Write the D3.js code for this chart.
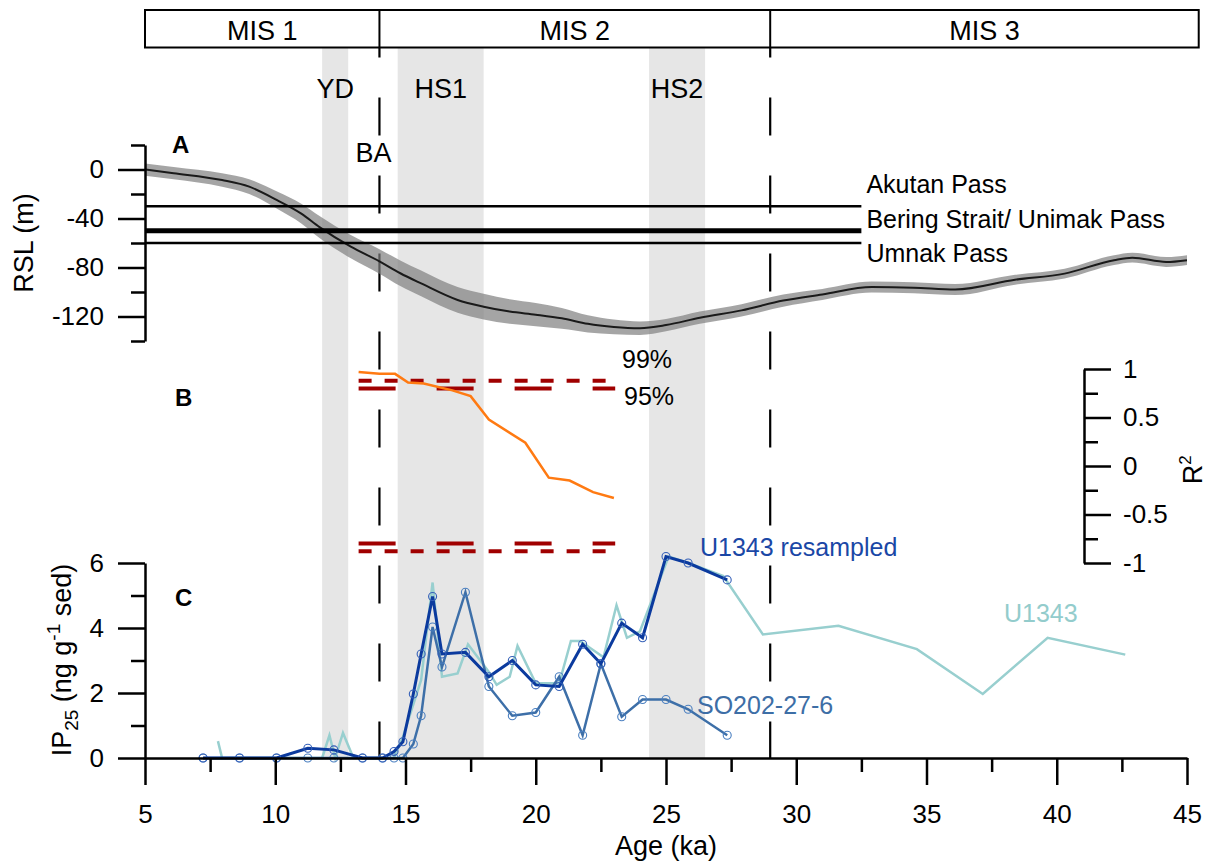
<!DOCTYPE html>
<html>
<head>
<meta charset="utf-8">
<script src="https://cdn.jsdelivr.net/npm/d3@7/dist/d3.min.js"></script>
<style>
  html, body { margin: 0; padding: 0; background: #fff; }
  svg { display: block; font-family: "Liberation Sans", Arial, Helvetica, sans-serif; }
  .axis path, .axis line { stroke: #000; stroke-width: 2.5; }
  .axis text { font-size: 26px; fill: #000; font-family: "Liberation Sans", Arial, sans-serif; }
</style>
</head>
<body>
<svg id="chart" width="1213" height="863"></svg>
<script>
// ---------------- DATA ----------------
// Marine isotope stages (boundaries in ka)
const misNames = ["MIS 1", "MIS 2", "MIS 3"];
const misBounds = [5, 14, 29, 45.45];

// Climate events (shaded), ka
const eventNames = ["YD", "HS1", "HS2"];
const eventStart = [11.8, 14.7, 24.35];
const eventEnd = [12.8, 18.0, 26.5];

// Dashed boundaries (ka)
const boundaryAges = [14, 29];

// Panel A: relative sea level (m)
const rslAge  = [5.0, 6.1, 7.96, 9.0, 10.07, 11.0, 11.7, 12.9, 14.0, 14.8, 15.6, 17.0, 18.0, 19.0, 20.0, 21.0, 22.0, 23.0, 24.0, 25.0, 26.3, 27.9, 29.5, 31.0, 32.9, 34.5, 36.1, 38.4, 40.3, 42.2, 42.9, 44.2, 45.0];
const rslMean = [0, -3, -8.6, -14, -25, -36, -47, -63, -75, -84.7, -93, -106.5, -112, -116, -118.5, -121.5, -126, -128.5, -129.5, -127, -121, -115, -107, -102, -96, -96.5, -98, -90, -85, -74, -72, -75.5, -74];
const rslErr  = [5, 5, 5.5, 6, 7, 8, 9, 9.5, 10, 10.5, 10.5, 10.5, 10.5, 10, 9.5, 8.5, 7, 6, 5.5, 5, 5, 5, 5, 4.5, 4.5, 4.5, 4.5, 4, 4, 4, 4, 4, 4];

// Sill depths (m)
const passNames = ["Akutan Pass", "Bering Strait/ Unimak Pass", "Umnak Pass"];
const passDepth = [-30, -50, -60];
const passExtent = [5, 32.5];

// Panel B: R²
const r2Age = [13.2, 14.0, 14.6, 15.1, 15.7, 16.8, 17.5, 18.2, 19.6, 20.5, 21.3, 22.2, 23.0];
const r2Val = [0.97, 0.95, 0.95, 0.86, 0.85, 0.78, 0.72, 0.48, 0.24, -0.12, -0.15, -0.27, -0.33];
const sigExtent = [13.2, 23.05];
const sig99 = 0.88;
const sig95 = 0.80;

// Panel C: IP25 (ng g-1 sed)
const u1343Age = [7.8, 7.96, 11.8, 12.08, 12.3, 12.6, 13.0, 14.55, 14.9, 15.6, 16.04, 16.4, 17.0, 17.4, 18.2, 18.5, 19.0, 19.3, 20.0, 20.9, 21.35, 21.7, 22.6, 23.1, 23.5, 24.0, 25.1, 25.85, 27.2, 28.72, 31.62, 34.63, 37.16, 39.65, 42.63];
const u1343Val = [0.52, 0, 0, 0.7, 0, 0.77, 0, 0, 0.65, 2.4, 5.4, 2.5, 2.6, 3.5, 2.65, 2.25, 2.5, 3.45, 2.3, 2.3, 3.6, 3.6, 3.1, 4.7, 3.7, 3.9, 6.2, 6.0, 5.6, 3.8, 4.07, 3.35, 1.97, 3.7, 3.18];

const soAge = [7.23, 8.63, 10.05, 11.25, 12.25, 13.35, 14.12, 14.56, 14.9, 15.3, 15.6, 16.04, 16.4, 17.3, 18.2, 19.1, 20.0, 20.9, 21.8, 22.5, 23.3, 24.1, 25.0, 25.85, 27.35];
const soVal = [0, 0, 0, 0, 0, 0, 0, 0, 0, 0.43, 1.3, 4.03, 2.8, 5.1, 2.2, 1.3, 1.4, 2.5, 0.7, 2.9, 1.27, 1.8, 1.8, 1.5, 0.7];
const resVal = [0, 0, 0, 0.3, 0.25, 0, 0, 0.2, 0.5, 1.97, 3.2, 4.97, 3.2, 3.25, 2.5, 3.0, 2.25, 2.2, 3.5, 2.9, 4.15, 3.7, 6.2, 6.0, 5.48];

// Tick values
const xMajor = [5, 10, 15, 20, 25, 30, 35, 40, 45];
const xMinor = [7.5, 12.5, 17.5, 22.5, 27.5, 32.5, 37.5, 42.5];
const aMajor = [0, -40, -80, -120];
const aMinor = [20, -20, -60, -100, -140];
const bMajor = [1, 0.5, 0, -0.5, -1];
const bMinor = [0.75, 0.25, -0.25, -0.75];
const cMajor = [0, 2, 4, 6];
const cMinor = [1, 3, 5];

// ---------------- LAYOUT ----------------
const svg = d3.select("#chart");
const FONT = "'Liberation Sans', Arial, sans-serif";

const x = d3.scaleLinear().domain([5, 45]).range([145, 1187]);
const yA = d3.scaleLinear().domain([-140, 20]).range([341, 145]);
const yB = d3.scaleLinear().domain([-1, 1]).range([563, 369]);
const yC = d3.scaleLinear().domain([0, 6]).range([758, 563]);

const misTop = 10, misBottom = 47.5;
const plotBottom = yC(0);

// Shaded events
svg.append("g").selectAll("rect").data(eventNames).join("rect")
  .attr("x", (d, i) => x(eventStart[i]))
  .attr("width", (d, i) => x(eventEnd[i]) - x(eventStart[i]))
  .attr("y", misBottom)
  .attr("height", plotBottom - misBottom)
  .attr("fill", "#e6e6e6");

// Event labels
svg.append("g").selectAll("text").data(eventNames).join("text")
  .attr("x", (d, i) => x((eventStart[i] + eventEnd[i]) / 2))
  .attr("y", 98)
  .attr("text-anchor", "middle")
  .attr("font-size", 27)
  .attr("font-family", FONT)
  .text(d => d);

svg.append("text").attr("x", x(14) - 6).attr("y", 162).attr("text-anchor", "middle")
  .attr("font-size", 27).attr("font-family", FONT).text("BA");

// Dashed vertical boundaries
svg.append("g").selectAll("line").data(boundaryAges).join("line")
  .attr("x1", d => x(d)).attr("x2", d => x(d))
  .attr("y1", misBottom).attr("y2", plotBottom)
  .attr("stroke", "#000").attr("stroke-width", 2.2)
  .attr("stroke-dasharray", "38,40").attr("stroke-dashoffset", 28);

// MIS bar
const misG = svg.append("g");
misG.append("rect").attr("x", x(misBounds[0])).attr("y", misTop)
  .attr("width", x(misBounds[3]) - x(misBounds[0])).attr("height", misBottom - misTop)
  .attr("fill", "none").attr("stroke", "#000").attr("stroke-width", 2);
misG.selectAll("line").data(misBounds.slice(1, 3)).join("line")
  .attr("x1", d => x(d)).attr("x2", d => x(d)).attr("y1", misTop).attr("y2", misBottom)
  .attr("stroke", "#000").attr("stroke-width", 2);
misG.selectAll("text").data(misNames).join("text")
  .attr("x", (d, i) => (x(misBounds[i]) + x(misBounds[i + 1])) / 2)
  .attr("y", 39.5).attr("text-anchor", "middle").attr("font-size", 27).attr("font-family", FONT)
  .text(d => d);

// ---------------- PANEL A ----------------
const rslPts = rslAge.map((a, i) => ({ a, m: rslMean[i], e: rslErr[i] }));
svg.append("path").datum(rslPts)
  .attr("d", d3.area().x(d => x(d.a)).y0(d => yA(d.m - d.e)).y1(d => yA(d.m + d.e)).curve(d3.curveMonotoneX))
  .attr("fill", "#7f7f7f").attr("fill-opacity", 0.7);
svg.append("path").datum(rslPts)
  .attr("d", d3.line().x(d => x(d.a)).y(d => yA(d.m)).curve(d3.curveMonotoneX))
  .attr("fill", "none").attr("stroke", "#1a1a1a").attr("stroke-width", 2);

const passWidths = [2.3, 5, 2.3];
svg.append("g").selectAll("line").data(passDepth).join("line")
  .attr("x1", x(passExtent[0])).attr("x2", x(passExtent[1]))
  .attr("y1", d => yA(d)).attr("y2", d => yA(d))
  .attr("stroke", "#000").attr("stroke-width", (d, i) => passWidths[i]);
const passLabelY = [193, 228, 262];
svg.append("g").selectAll("text").data(passNames).join("text")
  .attr("x", x(passExtent[1]) + 5).attr("y", (d, i) => passLabelY[i])
  .attr("font-size", 25).attr("font-family", FONT).text(d => d);

const axA = svg.append("g").attr("class", "axis").attr("transform", `translate(${x(5)},0)`);
axA.call(d3.axisLeft(yA).tickValues(aMajor).tickSize(27).tickSizeOuter(0).tickPadding(14).tickFormat(d => String(d)));
const axAm = svg.append("g").attr("class", "axis").attr("transform", `translate(${x(5)},0)`);
axAm.call(d3.axisLeft(yA).tickValues(aMinor).tickSize(14).tickSizeOuter(0).tickFormat(""));
axAm.select(".domain").remove();

svg.append("text").attr("transform", `translate(33,${yA(-60)}) rotate(-90)`)
  .attr("text-anchor", "middle").attr("font-size", 27).attr("font-family", FONT).text("RSL (m)");
svg.append("text").attr("x", 172).attr("y", 153).attr("font-size", 24).attr("font-weight", "bold")
  .attr("font-family", FONT).text("A");

// ---------------- PANEL B ----------------
const sigLines = [
  { v: sig99, dash: "13,13" }, { v: sig95, dash: "37,41" },
  { v: -sig95, dash: "37,41" }, { v: -sig99, dash: "13,13" }
];
svg.append("g").selectAll("line").data(sigLines).join("line")
  .attr("x1", x(sigExtent[0])).attr("x2", x(sigExtent[1]))
  .attr("y1", d => yB(d.v)).attr("y2", d => yB(d.v))
  .attr("stroke", "#a00000").attr("stroke-width", 4)
  .attr("stroke-dasharray", d => d.dash);

svg.append("path").datum(r2Age.map((a, i) => [a, r2Val[i]]))
  .attr("d", d3.line().x(d => x(d[0])).y(d => yB(d[1])))
  .attr("fill", "none").attr("stroke", "#ff7a12").attr("stroke-width", 2.5);

svg.append("text").attr("x", 622).attr("y", 368).attr("font-size", 25).attr("font-family", FONT).text("99%");
svg.append("text").attr("x", 624).attr("y", 405).attr("font-size", 25).attr("font-family", FONT).text("95%");

const axB = svg.append("g").attr("class", "axis").attr("transform", "translate(1084,0)");
axB.call(d3.axisRight(yB).tickValues(bMajor).tickSize(27).tickSizeOuter(0).tickPadding(12).tickFormat(d => String(d)));
const axBm = svg.append("g").attr("class", "axis").attr("transform", "translate(1084,0)");
axBm.call(d3.axisRight(yB).tickValues(bMinor).tickSize(14).tickSizeOuter(0).tickFormat(""));
axBm.select(".domain").remove();

const r2Title = svg.append("text").attr("transform", `translate(1202,${yB(-0.04)}) rotate(-90)`)
  .attr("text-anchor", "middle").attr("font-size", 27).attr("font-family", FONT);
r2Title.append("tspan").text("R");
r2Title.append("tspan").attr("font-size", 17).attr("dy", -11).text("2");

svg.append("text").attr("x", 175).attr("y", 406).attr("font-size", 24).attr("font-weight", "bold")
  .attr("font-family", FONT).text("B");

// ---------------- PANEL C ----------------
const lineC = d3.line().x(d => x(d[0])).y(d => yC(d[1]));
const tealCol = "#98cfcf", soCol = "#3d6fa8", resCol = "#0b3a9e";

svg.append("path").datum(u1343Age.map((a, i) => [a, u1343Val[i]]))
  .attr("d", lineC).attr("fill", "none").attr("stroke", tealCol).attr("stroke-width", 2.5);

const soPts = soAge.map((a, i) => [a, soVal[i]]);
const resPts = soAge.map((a, i) => [a, resVal[i]]);

svg.append("path").datum(soPts).attr("d", lineC).attr("fill", "none")
  .attr("stroke", soCol).attr("stroke-width", 2.5);
svg.append("g").selectAll("circle").data(soPts).join("circle")
  .attr("cx", d => x(d[0])).attr("cy", d => yC(d[1])).attr("r", 4)
  .attr("fill", "none").attr("stroke", "#4a7fc0").attr("stroke-width", 1.1);

svg.append("path").datum(resPts).attr("d", lineC).attr("fill", "none")
  .attr("stroke", resCol).attr("stroke-width", 3);
svg.append("g").selectAll("circle").data(resPts).join("circle")
  .attr("cx", d => x(d[0])).attr("cy", d => yC(d[1])).attr("r", 4)
  .attr("fill", "none").attr("stroke", "#3560b8").attr("stroke-width", 1.1);

svg.append("text").attr("x", 700).attr("y", 556).attr("font-size", 25).attr("font-family", FONT)
  .attr("fill", "#1a47a6").text("U1343 resampled");
svg.append("text").attr("x", 697).attr("y", 714).attr("font-size", 25).attr("font-family", FONT)
  .attr("fill", "#3d6ea6").text("SO202-27-6");
svg.append("text").attr("x", 1004).attr("y", 622).attr("font-size", 25).attr("font-family", FONT)
  .attr("fill", "#93cccc").text("U1343");

const axC = svg.append("g").attr("class", "axis").attr("transform", `translate(${x(5)},0)`);
axC.call(d3.axisLeft(yC).tickValues(cMajor).tickSize(27).tickSizeOuter(0).tickPadding(14).tickFormat(d => String(d)));
const axCm = svg.append("g").attr("class", "axis").attr("transform", `translate(${x(5)},0)`);
axCm.call(d3.axisLeft(yC).tickValues(cMinor).tickSize(14).tickSizeOuter(0).tickFormat(""));
axCm.select(".domain").remove();

const ipTitle = svg.append("text").attr("transform", `translate(71,660) rotate(-90)`)
  .attr("text-anchor", "middle").attr("font-size", 27).attr("font-family", FONT);
ipTitle.append("tspan").text("IP");
ipTitle.append("tspan").attr("font-size", 19).attr("dy", 7).text("25");
ipTitle.append("tspan").attr("dy", -7).text(" (ng g");
ipTitle.append("tspan").attr("font-size", 19).attr("dy", -11).text("-1");
ipTitle.append("tspan").attr("dy", 11).text(" sed)");

svg.append("text").attr("x", 175).attr("y", 606).attr("font-size", 24).attr("font-weight", "bold")
  .attr("font-family", FONT).text("C");

// X axis
const axX = svg.append("g").attr("class", "axis").attr("transform", `translate(0,${plotBottom})`);
axX.call(d3.axisBottom(x).tickValues(xMajor).tickSize(27).tickSizeOuter(0).tickPadding(20).tickFormat(d => String(d)));
const axXm = svg.append("g").attr("class", "axis").attr("transform", `translate(0,${plotBottom})`);
axXm.call(d3.axisBottom(x).tickValues(xMinor).tickSize(14).tickSizeOuter(0).tickFormat(""));
axXm.select(".domain").remove();

svg.append("text").attr("x", x(25)).attr("y", 855).attr("text-anchor", "middle")
  .attr("font-size", 27).attr("font-family", FONT).text("Age (ka)");
</script>
</body>
</html>
